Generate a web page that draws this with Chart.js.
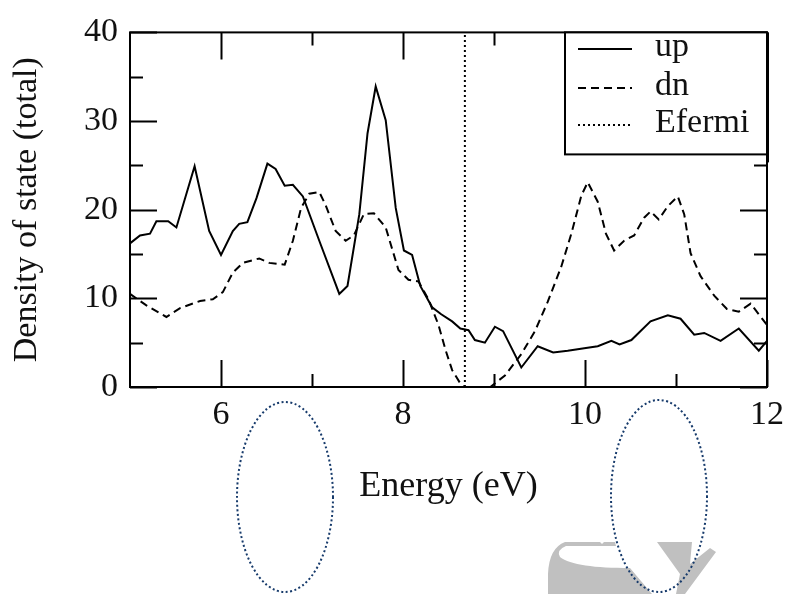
<!DOCTYPE html>
<html lang="en">
<head>
  <meta charset="UTF-8" />
  <title>Density of state (total)</title>
  <style>
    body { margin: 0; background: #ffffff; }
    #wrap { width: 792px; height: 594px; }
  </style>
  <script src="https://cdn.jsdelivr.net/npm/chart.js"></script>
</head>
<body>
  <div id="wrap"><canvas id="dos"></canvas></div>
  <script>
    // spin up
    const upX = [5.00, 5.11, 5.22, 5.29, 5.42, 5.51, 5.71, 5.87, 6.00, 6.13, 6.20, 6.29, 6.39, 6.51, 6.60, 6.70, 6.79, 6.90, 7.08, 7.30, 7.39, 7.52, 7.61, 7.70, 7.81, 7.92, 8.01, 8.10, 8.19, 8.32, 8.42, 8.54, 8.63, 8.72, 8.79, 8.90, 9.01, 9.10, 9.30, 9.48, 9.65, 9.81, 10.01, 10.14, 10.29, 10.38, 10.51, 10.72, 10.91, 11.05, 11.20, 11.31, 11.49, 11.69, 11.91, 12.00];
    const upY = [16.2, 17.1, 17.3, 18.7, 18.7, 18.0, 24.9, 17.6, 14.9, 17.6, 18.4, 18.6, 21.3, 25.2, 24.6, 22.7, 22.8, 21.5, 16.5, 10.5, 11.4, 19.5, 28.6, 33.9, 30.1, 20.2, 15.4, 14.9, 11.4, 9.0, 8.2, 7.4, 6.6, 6.4, 5.3, 5.0, 6.8, 6.3, 2.2, 4.6, 3.9, 4.1, 4.4, 4.6, 5.2, 4.8, 5.3, 7.4, 8.1, 7.7, 5.9, 6.1, 5.2, 6.6, 4.1, 5.2];

    // spin down
    const dnX = [5.00, 5.18, 5.40, 5.55, 5.77, 5.91, 6.02, 6.13, 6.24, 6.42, 6.53, 6.70, 6.79, 6.88, 6.97, 7.08, 7.15, 7.26, 7.37, 7.46, 7.57, 7.68, 7.81, 7.95, 8.06, 8.17, 8.28, 8.39, 8.47, 8.54, 8.63, 8.68, 8.80, 8.96, 9.12, 9.30, 9.45, 9.59, 9.74, 9.85, 9.96, 10.03, 10.14, 10.23, 10.32, 10.43, 10.54, 10.65, 10.72, 10.81, 10.91, 11.02, 11.09, 11.16, 11.27, 11.42, 11.56, 11.69, 11.82, 12.00];
    const dnY = [10.5, 9.2, 7.9, 8.9, 9.7, 9.9, 10.7, 12.9, 14.0, 14.5, 14.0, 13.8, 16.5, 20.2, 21.8, 22.0, 20.5, 17.6, 16.5, 17.1, 19.5, 19.6, 18.0, 13.2, 12.1, 11.9, 9.9, 7.0, 4.1, 1.9, 0.4, 0, 0, 0, 1.3, 3.7, 6.3, 9.6, 13.6, 17.3, 21.6, 23.1, 20.9, 17.3, 15.4, 16.5, 17.1, 19.1, 19.8, 18.9, 20.4, 21.5, 19.5, 15.1, 12.5, 10.3, 8.8, 8.5, 9.4, 7.0];

    // Fermi level
    const eFermi = 8.68;
    const fermiY = [0, 40];

    const xTicks = [6, 8, 10, 12];
    const xMinor = [7, 9, 11];
    const yTicks = [0, 10, 20, 30, 40];
    const yMinor = [5, 15, 25, 35];

    const serif = '"Liberation Serif", "DejaVu Serif", serif';
    const ink = '#111111';

    const toPoints = (xs, ys) => xs.map((x, i) => ({ x: x, y: ys[i] }));

    // inward ticks, frame, legend box and the page decorations
    const framePlugin = {
      id: 'frame',
      afterDraw(chart) {
        const { ctx, chartArea: a, scales: { x, y } } = chart;
        ctx.save();
        ctx.strokeStyle = '#000';
        ctx.lineWidth = 2;
        ctx.beginPath();
        const tick = (v, len, axis) => {
          if (axis === 'x') {
            const px = Math.round(x.getPixelForValue(v)) + 0.5;
            ctx.moveTo(px, a.bottom); ctx.lineTo(px, a.bottom - len);
            ctx.moveTo(px, a.top); ctx.lineTo(px, a.top + len);
          } else {
            const py = Math.round(y.getPixelForValue(v)) + 0.5;
            ctx.moveTo(a.left, py); ctx.lineTo(a.left + len, py);
            ctx.moveTo(a.right, py); ctx.lineTo(a.right - len, py);
          }
        };
        xTicks.forEach(v => tick(v, 27, 'x'));
        xMinor.forEach(v => tick(v, 13, 'x'));
        yTicks.forEach(v => tick(v, 27, 'y'));
        yMinor.forEach(v => tick(v, 13, 'y'));
        ctx.stroke();
        ctx.strokeRect(a.left, a.top, a.right - a.left, a.bottom - a.top);

        // legend
        const lx = 565, ly = a.top, lw = a.right - 565, lh = 122;
        ctx.fillStyle = '#fff';
        ctx.fillRect(lx, ly, lw, lh);
        ctx.strokeRect(lx, ly, lw, lh);
        ctx.lineWidth = 3;
        ctx.beginPath();
        ctx.moveTo(a.right + 0.5, ly); ctx.lineTo(a.right + 0.5, ly + lh + 8);
        ctx.stroke();
        const rows = [56, 95, 132];
        ctx.font = '34px ' + serif;
        ctx.textBaseline = 'alphabetic';
        ctx.textAlign = 'left';
        chart.data.datasets.forEach((ds, i) => {
          const yy = rows[i] - 7;
          ctx.save();
          ctx.lineWidth = ds.borderWidth;
          ctx.setLineDash(ds.borderDash || []);
          ctx.beginPath();
          ctx.moveTo(578, yy); ctx.lineTo(632, yy);
          ctx.stroke();
          ctx.restore();
          ctx.fillStyle = ink;
          ctx.fillText(ds.label, 655, rows[i]);
        });

        // grey watermark pieces in the lower right corner
        ctx.fillStyle = '#c0c0c0';
        ctx.beginPath();
        ctx.moveTo(548, 594);
        ctx.lineTo(548, 574);
        ctx.quadraticCurveTo(549, 548, 565, 542);
        ctx.lineTo(600, 542);
        ctx.lineTo(602, 544);
        ctx.lineTo(604, 542);
        ctx.lineTo(615, 542);
        ctx.lineTo(616, 546);
        ctx.lineTo(566, 546);
        ctx.quadraticCurveTo(556, 550, 560, 557);
        ctx.bezierCurveTo(570, 565, 595, 568, 630, 568);
        ctx.lineTo(652, 594);
        ctx.closePath();
        ctx.fill();
        ctx.beginPath();
        ctx.moveTo(657, 542);
        ctx.lineTo(692, 542);
        ctx.lineTo(690, 564);
        ctx.lineTo(710, 548);
        ctx.lineTo(716, 552);
        ctx.lineTo(685, 594);
        ctx.lineTo(676, 594);
        ctx.lineTo(680, 574);
        ctx.closePath();
        ctx.fill();

        // dotted ellipses
        ctx.strokeStyle = '#163a6b';
        ctx.lineWidth = 2;
        ctx.setLineDash([2, 2.5]);
        ctx.beginPath();
        ctx.ellipse(285, 497, 48, 95, 0, 0, Math.PI * 2);
        ctx.stroke();
        ctx.beginPath();
        ctx.ellipse(659, 496, 48, 96, 0, 0, Math.PI * 2);
        ctx.stroke();
        ctx.restore();
      }
    };

    new Chart(document.getElementById('dos'), {
      type: 'scatter',
      data: {
        datasets: [
          { label: 'up', data: toPoints(upX, upY), showLine: true, borderColor: '#000', borderWidth: 2, pointRadius: 0, tension: 0 },
          { label: 'dn', data: toPoints(dnX, dnY), showLine: true, borderColor: '#000', borderWidth: 2, borderDash: [8, 5], pointRadius: 0, tension: 0 },
          { label: 'Efermi', data: toPoints([eFermi, eFermi], fermiY), showLine: true, borderColor: '#000', borderWidth: 2, borderDash: [2, 3], pointRadius: 0 }
        ]
      },
      options: {
        responsive: true,
        maintainAspectRatio: false,
        animation: false,
        layout: { padding: { left: 0, right: 22, top: 23, bottom: 0 } },
        plugins: { legend: { display: false }, tooltip: { enabled: false } },
        scales: {
          x: {
            type: 'linear', min: 5, max: 12,
            afterBuildTicks: s => { s.ticks = xTicks.map(v => ({ value: v })); },
            afterFit: s => { s.height = 207; },
            grid: { display: false, drawTicks: false },
            border: { display: false },
            ticks: { padding: 8, color: ink, font: { family: serif, size: 34 } },
            title: { display: true, text: 'Energy (eV)', color: ink, font: { family: serif, size: 36 }, padding: { top: 0, bottom: 86 } }
          },
          y: {
            type: 'linear', min: 0, max: 40,
            afterBuildTicks: s => { s.ticks = yTicks.map(v => ({ value: v })); },
            afterFit: s => { s.width = 130; },
            grid: { display: false, drawTicks: false },
            border: { display: false },
            ticks: { padding: 12, color: ink, font: { family: serif, size: 34 } },
            title: { display: true, text: 'Density of state (total)', color: ink, font: { family: serif, size: 34 }, padding: { top: 7, bottom: 0 } }
          }
        }
      },
      plugins: [framePlugin]
    });
  </script>
</body>
</html>
